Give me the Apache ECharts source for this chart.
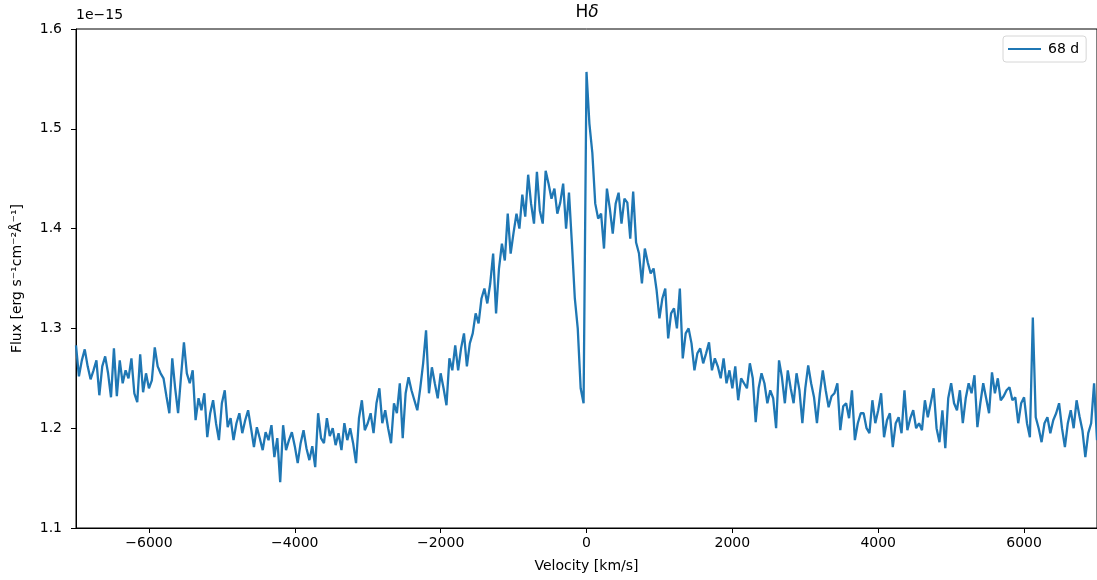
<!DOCTYPE html>
<html>
<head>
<meta charset="utf-8">
<script src="https://cdn.jsdelivr.net/npm/echarts@6/dist/echarts.min.js"></script>
<style>
html,body{margin:0;padding:0;background:#fff;}
#chart{width:1097px;height:580px;}
</style>
</head>
<body>
<div id="chart"></div>
<script>
// Velocity grid (km/s): samples every 40 km/s from -7000 to 7000
const velStart = -7000;
const velStep = 40;
// Flux values (units of 1e-15 erg s^-1 cm^-2 Å^-1)
const flux = [
  1.283,1.252,1.268,1.279,1.262,1.249,1.258,1.268,1.233,1.262,
  1.272,1.255,1.231,1.280,1.232,1.268,1.245,1.258,1.250,1.270,
  1.235,1.226,1.274,1.236,1.255,1.240,1.248,1.281,1.262,1.255,
  1.250,1.232,1.215,1.270,1.240,1.215,1.252,1.286,1.255,1.245,
  1.258,1.208,1.230,1.218,1.235,1.191,1.215,1.228,1.205,1.188,
  1.225,1.238,1.201,1.210,1.188,1.205,1.215,1.195,1.208,1.218,
  1.200,1.181,1.201,1.190,1.178,1.196,1.188,1.203,1.171,1.190,
  1.146,1.203,1.178,1.188,1.196,1.182,1.165,1.185,1.198,1.180,
  1.168,1.182,1.161,1.215,1.190,1.185,1.210,1.192,1.200,1.183,
  1.195,1.178,1.205,1.188,1.200,1.185,1.165,1.210,1.228,1.198,
  1.205,1.215,1.195,1.225,1.240,1.205,1.218,1.200,1.185,1.225,
  1.215,1.245,1.190,1.235,1.251,1.238,1.228,1.218,1.240,1.265,
  1.298,1.235,1.261,1.245,1.230,1.255,1.240,1.223,1.270,1.258,
  1.283,1.258,1.280,1.295,1.262,1.285,1.295,1.315,1.305,1.330,
  1.340,1.325,1.345,1.375,1.315,1.360,1.385,1.368,1.415,1.375,
  1.396,1.415,1.400,1.434,1.412,1.454,1.425,1.405,1.457,1.418,
  1.405,1.458,1.445,1.430,1.440,1.415,1.426,1.445,1.400,1.436,
  1.385,1.330,1.300,1.240,1.225,1.557,1.505,1.476,1.425,1.410,
  1.415,1.380,1.440,1.420,1.395,1.425,1.436,1.405,1.430,1.426,
  1.390,1.437,1.386,1.375,1.345,1.380,1.366,1.355,1.360,1.339,
  1.310,1.330,1.340,1.290,1.315,1.320,1.300,1.340,1.270,1.295,
  1.300,1.285,1.258,1.275,1.280,1.265,1.275,1.286,1.258,1.270,
  1.262,1.250,1.270,1.245,1.258,1.240,1.262,1.228,1.250,1.245,
  1.240,1.265,1.250,1.206,1.240,1.255,1.245,1.225,1.238,1.230,
  1.200,1.268,1.251,1.225,1.258,1.240,1.225,1.255,1.238,1.205,
  1.240,1.263,1.245,1.231,1.205,1.235,1.258,1.238,1.221,1.232,
  1.235,1.245,1.198,1.222,1.225,1.210,1.238,1.188,1.205,1.215,
  1.215,1.200,1.195,1.228,1.205,1.218,1.235,1.191,1.208,1.215,
  1.181,1.205,1.211,1.195,1.238,1.198,1.210,1.218,1.200,1.205,
  1.198,1.228,1.211,1.225,1.240,1.200,1.186,1.218,1.180,1.230,
  1.245,1.225,1.218,1.238,1.205,1.230,1.245,1.235,1.253,1.201,
  1.225,1.245,1.230,1.215,1.256,1.235,1.250,1.228,1.232,1.238,
  1.241,1.228,1.231,1.205,1.225,1.231,1.205,1.191,1.311,1.211,
  1.200,1.186,1.205,1.211,1.195,1.208,1.215,1.225,1.200,1.181,
  1.205,1.218,1.200,1.228,1.212,1.198,1.171,1.195,1.205,1.245,
  1.188
];
const xTicks = [-6000,-4000,-2000,0,2000,4000,6000];
const yTicks = [1.1,1.2,1.3,1.4,1.5,1.6];
const seriesName = '68 d';

const data = flux.map((f, i) => [velStart + i * velStep, f]);
const FONT = '"DejaVu Sans", sans-serif';
const fmtX = v => (v < 0 ? '\u2212' + Math.abs(v) : String(v));

const chart = echarts.init(document.getElementById('chart'), null, {renderer: 'canvas'});
chart.setOption({
  animation: false,
  backgroundColor: '#fff',
  textStyle: {fontFamily: FONT, color: '#000'},
  grid: {left: 76, top: 29, width: 1023, height: 499, show: true,
         borderColor: '#000', borderWidth: 1, backgroundColor: 'transparent', containLabel: false},
  legend: {
    right: 'auto', left: 1003, top: 36,
    padding: [6, 7, 6, 5],
    itemWidth: 33, itemHeight: 2, itemGap: 8,
    icon: 'rect',
    borderColor: '#d6d6d6', borderWidth: 1, borderRadius: 3,
    backgroundColor: '#fff',
    textStyle: {fontFamily: FONT, fontSize: 14, color: '#000', padding: [0, 0, 0, 2]},
    data: [{name: seriesName, itemStyle: {color: '#1f77b4'}}]
  },
  xAxis: {
    type: 'value', min: -7000, max: 7000,
    name: 'Velocity [km/s]', nameLocation: 'middle', nameGap: 31,
    nameTextStyle: {fontFamily: FONT, fontSize: 14, color: '#000'},
    axisLine: {show: true, onZero: false, lineStyle: {color: '#000', width: 1}},
    axisTick: {show: true, length: 5, lineStyle: {color: '#000', width: 1}, customValues: xTicks},
    axisLabel: {fontFamily: FONT, fontSize: 14, color: '#000', margin: 8,
                customValues: xTicks, formatter: fmtX},
    splitLine: {show: false}
  },
  yAxis: {
    type: 'value', min: 1.1, max: 1.6, interval: 0.1,
    name: 'Flux [erg s\u207B\u00B9cm\u207B\u00B2\u00C5\u207B\u00B9]',
    nameLocation: 'middle', nameGap: 52, nameRotate: 90,
    nameTextStyle: {fontFamily: FONT, fontSize: 14, color: '#000'},
    axisLine: {show: true, onZero: false, lineStyle: {color: '#000', width: 1}},
    axisTick: {show: true, length: 5, lineStyle: {color: '#000', width: 1}, customValues: yTicks},
    axisLabel: {fontFamily: FONT, fontSize: 14, color: '#000', margin: 14,
                customValues: yTicks, formatter: v => Number(v).toFixed(1)},
    splitLine: {show: false}
  },
  graphic: [
    {type: 'text', left: 76, top: 8,
     style: {text: '1e\u221215', font: '14px "DejaVu Sans"', fill: '#000'}},
    {type: 'text', x: 587, y: 13,
     style: {text: '{a|H}{b|\u03B4}', textAlign: 'center', textVerticalAlign: 'middle',
             rich: {a: {fontFamily: FONT, fontSize: 17, color: '#000'},
                    b: {fontFamily: FONT, fontSize: 17, fontStyle: 'italic', color: '#000'}}}}
  ],
  series: [{
    name: seriesName, type: 'line', data: data,
    showSymbol: false, symbol: 'none',
    lineStyle: {color: '#1f77b4', width: 2.3},
    itemStyle: {color: '#1f77b4'},
    clip: true
  }]
});
</script>
</body>
</html>
